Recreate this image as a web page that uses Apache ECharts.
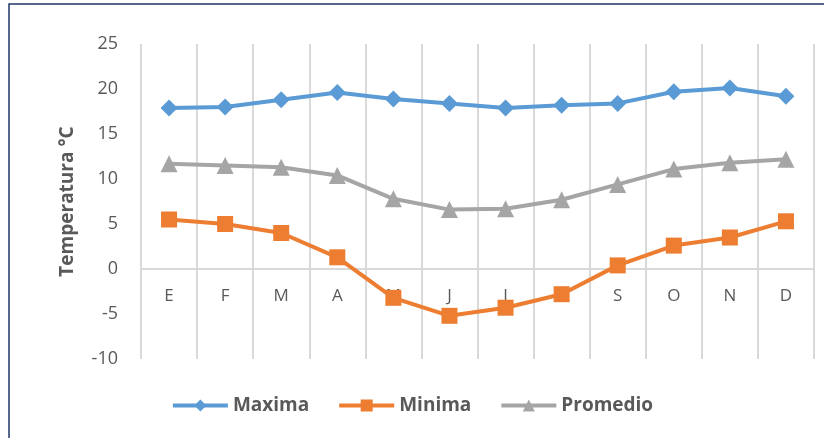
<!DOCTYPE html>
<html>
<head>
<meta charset="utf-8">
<script src="https://cdn.jsdelivr.net/npm/echarts@6/dist/echarts.min.js"></script>
<style>
  html, body { margin: 0; padding: 0; background: #fff; }
  #chart { width: 824px; height: 438px; }
</style>
</head>
<body>
<div id="chart"></div>
<script>
// Monthly temperatures (°C)
const months = ['E', 'F', 'M', 'A', 'M', 'J', 'J', 'A', 'S', 'O', 'N', 'D'];
const maxima = [17.9, 18.0, 18.8, 19.6, 18.9, 18.4, 17.9, 18.2, 18.4, 19.7, 20.1, 19.2];
const minima = [5.5, 5.0, 4.0, 1.3, -3.2, -5.2, -4.3, -2.8, 0.4, 2.6, 3.5, 5.3];
const promedio = [11.7, 11.5, 11.3, 10.4, 7.8, 6.6, 6.7, 7.7, 9.4, 11.1, 11.8, 12.2];
const yTicks = { min: -10, max: 25, step: 5 };
const zeroLevel = 0;

const FONT = '"Open Sans", "Noto Sans", sans-serif';
const TEXT = '#595959';
const GRIDLINE = '#d9d9d9';

const GRID = { left: 141, right: 10, top: 44, bottom: 79 };
const plotHeight = 438 - GRID.top - GRID.bottom;
// Month axis sits on the 0 °C line: lift it from the bottom of the plot by the span below zero
const zeroLift = plotHeight * (zeroLevel - yTicks.min) / (yTicks.max - yTicks.min);

const chart = echarts.init(document.getElementById('chart'), null, { renderer: 'canvas' });

function lineSeries(name, data, color, symbol, size, extra) {
  return Object.assign({
    name, type: 'line', data,
    symbol, symbolSize: size,
    showAllSymbol: true,
    lineStyle: { color, width: 4 },
    itemStyle: { color },
    emphasis: { disabled: true },
    animation: false,
    z: 3
  }, extra || {});
}

chart.setOption({
  animation: false,
  textStyle: { fontFamily: FONT },
  graphic: [{
    type: 'rect',
    shape: { x: 9, y: 4, width: 1000, height: 600 },
    style: { fill: 'none', stroke: '#1f3864', lineWidth: 1.5 },
    silent: true
  }],
  grid: GRID,
  legend: {
    bottom: 18,
    left: 'center',
    itemWidth: 55,
    itemHeight: 15,
    itemGap: 28,
    lineStyle: { width: 4 },
    textStyle: { color: TEXT, fontSize: 19, fontWeight: 'bold', fontFamily: FONT },
    data: ['Maxima', 'Minima', 'Promedio']
  },
  xAxis: {
    type: 'category',
    data: months,
    boundaryGap: true,
    position: 'bottom',
    offset: -zeroLift,
    axisLine: { show: true, onZero: false, lineStyle: { color: GRIDLINE, width: 2 } },
    axisTick: { show: false },
    axisLabel: { color: TEXT, fontSize: 17, margin: 19, fontFamily: FONT },
    splitLine: { show: true, lineStyle: { color: GRIDLINE, width: 2 } }
  },
  yAxis: {
    type: 'value',
    min: yTicks.min, max: yTicks.max, interval: yTicks.step,
    name: 'Temperatura °C',
    nameLocation: 'middle',
    nameGap: 64,
    nameRotate: 90,
    nameTextStyle: { color: TEXT, fontSize: 19, fontWeight: 'bold', fontFamily: FONT },
    axisLine: { show: false },
    axisTick: { show: false },
    axisLabel: { color: TEXT, fontSize: 18, margin: 23, fontFamily: FONT },
    splitLine: { show: false }
  },
  series: [
    lineSeries('Maxima', maxima, '#5b9bd5', 'diamond', 17, {
      markLine: {
        silent: true,
        z: 1,
        symbol: 'none',
        label: { show: false },
        lineStyle: { color: GRIDLINE, width: 2, type: 'solid' },
        data: [{ yAxis: zeroLevel }],
        animation: false
      }
    }),
    lineSeries('Minima', minima, '#ed7d31', 'rect', 16),
    lineSeries('Promedio', promedio, '#a5a5a5', 'triangle', 17)
  ]
});
</script>
</body>
</html>
